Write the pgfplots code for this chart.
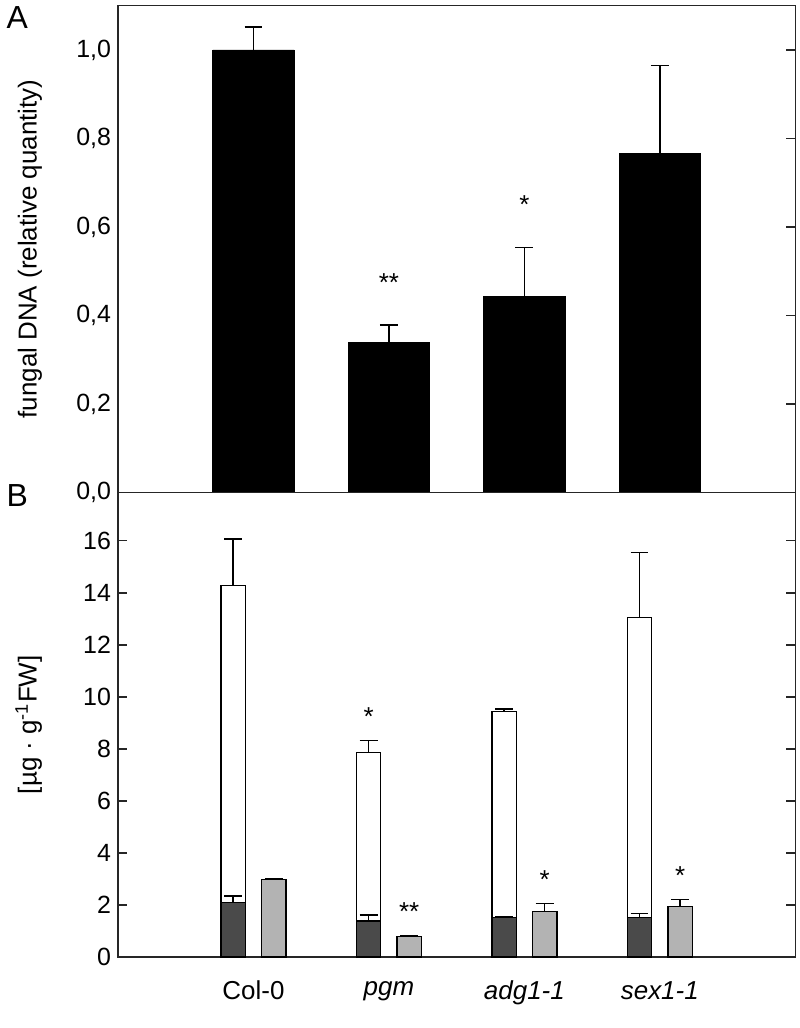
\documentclass[border=0pt]{standalone}
\usepackage{fontspec}
\setmainfont{Liberation Sans}
\usepackage{pgfplots}
\usepackage{pgfplotstable}
\pgfplotsset{compat=1.18}

% panel A: fungal DNA
\pgfplotstableread{
x y err
1 1.000 0.052
2 0.338 0.040
3 0.442 0.112
4 0.766 0.199
}\fungal
% panel B: stacked total (white), lower part (dark), separate (gray)
\pgfplotstableread{
x y err
1 14.28 1.79
2 7.87 0.45
3 9.45 0.08
4 13.06 2.50
}\total
\pgfplotstableread{
x y err
1 2.10 0.25
2 1.39 0.23
3 1.52 0.02
4 1.52 0.17
}\dark
\pgfplotstableread{
x y err
1 2.99 0.03
2 0.80 0.03
3 1.76 0.30
4 1.94 0.27
}\light

\definecolor{darkbar}{HTML}{4A4A4A}
\definecolor{lightbar}{HTML}{B3B3B3}

\pgfplotsset{
  panel/.style={
    scale only axis, width=339.5pt,
    xmin=0, xmax=5,
    axis line style={black!85, line width=0.7pt},
    tick align=inside, major tick length=4.5pt,
    ytick style={black!85, line width=0.7pt},
    xtick style={draw=none},
    tick label style={font=\fontsize{12.5}{15}\selectfont},
    label style={font=\fontsize{13}{15}\selectfont},
    /pgf/number format/assume math mode=true,
    error bars/y dir=plus, error bars/y explicit,
    error bars/error bar style={black, line width=0.7pt},
    error bars/error mark options={black, line width=0.7pt, mark size=4.5pt, rotate=90},
  },
}

\begin{document}
\begin{tikzpicture}
\begin{axis}[panel, name=A,
    height=244pt, ymin=0, ymax=1.1,
    ytick pos=right, yticklabel pos=left,
    ytick={0,0.2,...,1.0},
    yticklabel style={/pgf/number format/.cd, use comma, fixed, fixed zerofill, precision=1},
    xtick=\empty,
    ylabel={fungal DNA (relative quantity)},
    ylabel style={at={(axis description cs:-0.13,0.5)}, anchor=center},
    ybar, bar width=0.6,
]
\addplot[fill=black, draw=black] table[x=x, y=y, y error=err] {\fungal};
\node[font=\fontsize{13}{15}\selectfont] at (axis cs:2,0.475) {**};
\node[font=\fontsize{13}{15}\selectfont] at (axis cs:3,0.650) {*};
\end{axis}

\begin{axis}[panel, at={(A.south west)}, anchor=north west,
    height=233pt, ymin=0, ymax=17.86,
    ytick pos=both, yticklabel pos=left,
    ytick={0,2,...,16},
    xtick={1,2,3,4},
    xticklabels={Col-0, \textit{pgm}, \textit{adg1-1}, \textit{sex1-1}},
    xticklabel style={yshift=-4pt, font=\fontsize{13}{15}\selectfont},
    ylabel={[µg · g\textsuperscript{-1}FW]},
    ylabel style={at={(axis description cs:-0.132,0.5)}, anchor=center},
    ybar, bar width=0.18,
]
\addplot[fill=white, draw=black, line width=0.7pt, bar shift=-0.15] table[x=x, y=y, y error=err] {\total};
\addplot[fill=darkbar, draw=black, line width=0.7pt, bar shift=-0.15] table[x=x, y=y, y error=err] {\dark};
\addplot[fill=lightbar, draw=black, line width=0.7pt, bar shift=0.15] table[x=x, y=y, y error=err] {\light};
\node[font=\fontsize{13}{15}\selectfont] at (axis cs:1.85,9.25) {*};
\node[font=\fontsize{13}{15}\selectfont] at (axis cs:2.15,1.75) {**};
\node[font=\fontsize{13}{15}\selectfont] at (axis cs:3.15,3.0) {*};
\node[font=\fontsize{13}{15}\selectfont] at (axis cs:4.15,3.15) {*};
\end{axis}

\node[font=\fontsize{16}{18}\selectfont] at ([xshift=-50.5pt, yshift=-6pt]A.north west) {A};
\node[font=\fontsize{16}{18}\selectfont] at ([xshift=-50.5pt, yshift=-245.5pt]A.north west) {B};
\path ([xshift=-56.5pt, yshift=1.5pt]A.north west) rectangle ([xshift=341.5pt, yshift=-512.5pt]A.north west);
\end{tikzpicture}
\end{document}
